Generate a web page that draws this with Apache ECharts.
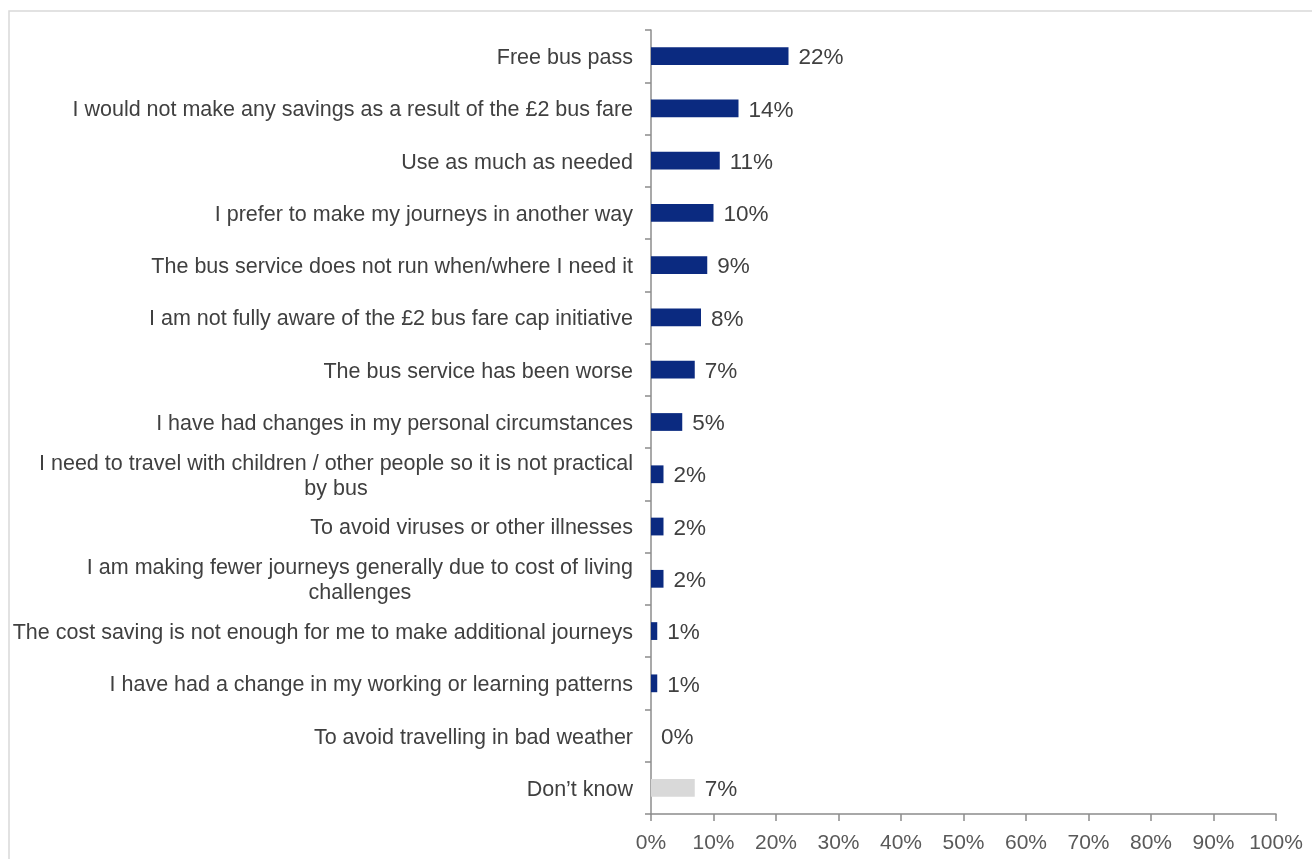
<!DOCTYPE html>
<html>
<head>
<meta charset="utf-8">
<script src="https://cdn.jsdelivr.net/npm/echarts@6/dist/echarts.min.js"></script>
<style>
  html, body { margin: 0; padding: 0; background: #ffffff; }
  #chart { width: 1312px; height: 859px; }
</style>
</head>
<body>
<div id="chart"></div>
<script>
// Reasons given, top to bottom
const categories = [
  'Free bus pass',
  'I would not make any savings as a result of the £2 bus fare',
  'Use as much as needed',
  'I prefer to make my journeys in another way',
  'The bus service does not run when/where I need it',
  'I am not fully aware of the £2 bus fare cap initiative',
  'The bus service has been worse',
  'I have had changes in my personal circumstances',
  'I need to travel with children / other people so it is not practical\nby bus',
  'To avoid viruses or other illnesses',
  'I am making fewer journeys generally due to cost of living\nchallenges',
  'The cost saving is not enough for me to make additional journeys',
  'I have had a change in my working or learning patterns',
  'To avoid travelling in bad weather',
  'Don\u2019t know'
];
// Share of respondents (%)
const shares = [22, 14, 11, 10, 9, 8, 7, 5, 2, 2, 2, 1, 1, 0, 7];
// Value axis tick values (%)
const xTicks = [0, 10, 20, 30, 40, 50, 60, 70, 80, 90, 100];

const BLUE = '#0B2A80';
const GREY = '#D9D9D9';
const FONT = '"Liberation Sans", Arial, sans-serif';

const chart = echarts.init(document.getElementById('chart'), null, { renderer: 'canvas' });

chart.setOption({
  backgroundColor: '#ffffff',
  animation: false,
  graphic: [{
    type: 'rect',
    shape: { x: 9, y: 11, width: 1400, height: 900 },
    style: { fill: 'none', stroke: '#D9D9D9', lineWidth: 1.5 },
    silent: true
  }],
  grid: { left: 651, right: 36, top: 30, bottom: 45, containLabel: false },
  xAxis: {
    type: 'value',
    min: xTicks[0],
    max: xTicks[xTicks.length - 1],
    interval: xTicks[1] - xTicks[0],
    splitLine: { show: false },
    axisLine: { show: true, lineStyle: { color: '#8C8C8C', width: 1.5 } },
    axisTick: { show: true, length: 7, lineStyle: { color: '#8C8C8C', width: 1.5 } },
    axisLabel: {
      color: '#595959', fontFamily: FONT, fontSize: 21, margin: 19,
      formatter: v => v + '%'
    }
  },
  yAxis: {
    type: 'category',
    data: categories,
    inverse: true,
    axisLine: { show: true, lineStyle: { color: '#8C8C8C', width: 1.5 } },
    axisTick: { show: true, length: 6, lineStyle: { color: '#8C8C8C', width: 1.5 } },
    axisLabel: {
      margin: 18,
      align: 'right',
      padding: [4, 0, 0, 0],
      formatter: v => v.split('\n').map(s => '{c|' + s + '}').join('\n'),
      rich: {
        c: {
          color: '#404040', fontFamily: FONT, fontSize: 21.5,
          lineHeight: 25, align: 'center'
        }
      }
    }
  },
  series: [{
    type: 'bar',
    barCategoryGap: '66%',
    data: shares.map((v, i) => ({
      value: v,
      itemStyle: { color: i === shares.length - 1 ? GREY : BLUE }
    })),
    label: {
      show: true,
      position: 'right',
      distance: 10,
      offset: [0, 2],
      color: '#404040',
      fontFamily: FONT,
      fontSize: 22.5,
      formatter: p => p.value + '%'
    }
  }]
});
</script>
</body>
</html>
